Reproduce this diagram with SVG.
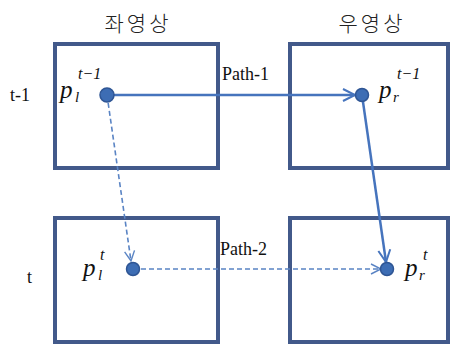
<svg xmlns="http://www.w3.org/2000/svg" width="451" height="348" viewBox="0 0 451 348">
<defs>
<marker id="a1" markerUnits="userSpaceOnUse" markerWidth="20" markerHeight="20" refX="14" refY="8" orient="auto">
<path d="M2,2 L14,8 L2,14" fill="none" stroke="#4674bd" stroke-width="2"/>
</marker>
<marker id="a2" markerUnits="userSpaceOnUse" markerWidth="20" markerHeight="20" refX="13" refY="8" orient="auto">
<path d="M3,3 L13,8 L3,13" fill="none" stroke="#5a84c4" stroke-width="1.4"/>
</marker>
</defs>
<rect width="451" height="348" fill="#fff"/>
<g id="header-left"><text x="138" y="31" text-anchor="middle" font-family="Noto Sans CJK KR, sans-serif" font-size="21" font-weight="300" letter-spacing="3" fill="#222">좌영상</text></g>
<g id="header-right"><text x="372" y="31" text-anchor="middle" font-family="Noto Sans CJK KR, sans-serif" font-size="21" font-weight="300" letter-spacing="3" fill="#222">우영상</text></g>
<g font-family="Liberation Serif, serif" fill="#111">
<g id="row-t1"><text x="10" y="101" font-size="18">t-1</text></g>
<g id="row-t"><text x="27" y="283" font-size="18">t</text></g>
</g>
<g fill="#fff" stroke="#42598a" stroke-width="4">
<g id="box-left-t1"><rect x="55" y="44" width="163" height="124"/></g>
<g id="box-right-t1"><rect x="290" y="44" width="158" height="124"/></g>
<g id="box-left-t"><rect x="55" y="218" width="163" height="124"/></g>
<g id="box-right-t"><rect x="290" y="218" width="158" height="124"/></g>
</g>
<g id="connectors">
<g fill="none" stroke="#4674bd" stroke-width="2.5">
<line x1="107" y1="95" x2="355" y2="95" marker-end="url(#a1)"/>
<line x1="362" y1="95" x2="386" y2="262" marker-end="url(#a1)"/>
</g>
<g fill="none" stroke="#5a84c4" stroke-width="1.6" stroke-dasharray="5 3">
<line x1="107" y1="95" x2="131" y2="261" marker-end="url(#a2)"/>
<line x1="133" y1="269" x2="381" y2="269" marker-end="url(#a2)"/>
</g>
<g font-family="Liberation Serif, serif" font-size="18" fill="#111">
<text x="222" y="80">Path-1</text>
<text x="220" y="255">Path-2</text>
</g>
</g>
<g font-family="Liberation Serif, serif" font-style="italic" fill="#111">
<g id="pl-t1">
<circle cx="107" cy="95" r="7" fill="#3d6db4" stroke="#2e5594" stroke-width="1.5"/>
<text x="60" y="98" font-size="25">p</text>
<text x="75" y="102" font-size="15">l</text>
<text x="78" y="79" font-size="16">t−1</text>
</g>
<g id="pr-t1">
<circle cx="362" cy="95" r="6.5" fill="#3d6db4" stroke="#2e5594" stroke-width="1.5"/>
<text x="379" y="98" font-size="25">p</text>
<text x="393" y="102" font-size="15">r</text>
<text x="397" y="79" font-size="16">t−1</text>
</g>
<g id="pl-t">
<circle cx="133" cy="269" r="6.5" fill="#3d6db4" stroke="#2e5594" stroke-width="1.5"/>
<text x="83" y="276" font-size="25">p</text>
<text x="98" y="280" font-size="15">l</text>
<text x="100" y="260" font-size="16">t</text>
</g>
<g id="pr-t">
<circle cx="387" cy="269" r="6.5" fill="#3d6db4" stroke="#2e5594" stroke-width="1.5"/>
<text x="405" y="276" font-size="25">p</text>
<text x="419" y="280" font-size="15">r</text>
<text x="423" y="260" font-size="16">t</text>
</g>
</g>
</svg>
